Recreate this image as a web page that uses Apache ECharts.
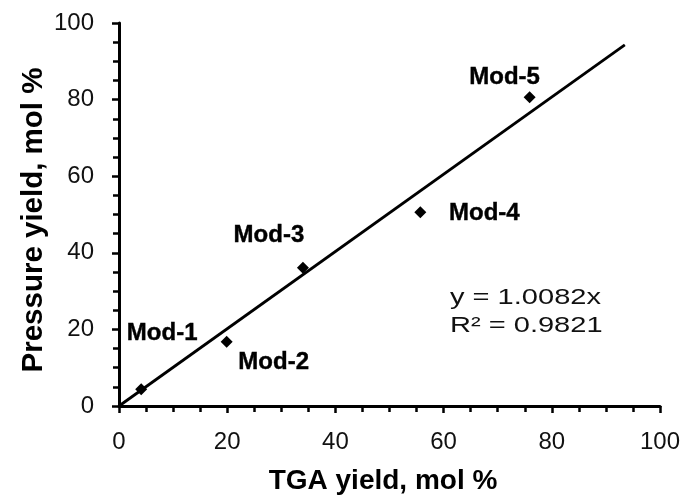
<!DOCTYPE html>
<html>
<head>
<meta charset="utf-8">
<script src="https://cdn.jsdelivr.net/npm/echarts@6/dist/echarts.min.js"></script>
<style>
  html, body { margin: 0; padding: 0; background: #fff; }
  #chart { width: 688px; height: 497px; }
</style>
</head>
<body>
<div id="chart"></div>
<script>
// Sample names and their yields (TGA vs. pressure), mol %
var sampleNames = ['Mod-1', 'Mod-2', 'Mod-3', 'Mod-4', 'Mod-5'];
var tgaYield = [4.1, 19.9, 34.0, 55.7, 75.9];
var pressureYield = [4.4, 16.8, 36.1, 50.6, 80.6];

// Linear fit through the origin
var fitSlope = 1.0082;
var fitR2 = 0.9821;
var fitXEnd = 93.5;

// Axis tick values and titles
var xTicks = [0, 20, 40, 60, 80, 100];
var yTicks = [0, 20, 40, 60, 80, 100];
var xTitle = 'TGA yield, mol %';
var yTitle = 'Pressure yield, mol %';

// Where each sample label sits relative to its marker (pixels)
var labelOffsets = [[21, -56], [47, 21], [-34, -32], [64, 1], [-25, -20]];

var FONT = '"Liberation Sans", Arial, Helvetica, sans-serif';

var points = sampleNames.map(function (name, i) {
  return {
    name: name,
    value: [tgaYield[i], pressureYield[i]],
    label: { offset: labelOffsets[i] }
  };
});

var chart = echarts.init(document.getElementById('chart'), null, { renderer: 'canvas' });

function axisCommon(ticks, labelMargin) {
  return {
    type: 'value',
    min: ticks[0],
    max: ticks[ticks.length - 1],
    interval: ticks[1] - ticks[0],
    axisLine: { show: true, onZero: false, lineStyle: { color: '#000', width: 3 } },
    axisTick: { show: true, inside: false, length: 7, lineStyle: { color: '#000', width: 2.5 } },
    minorTick: { show: true, splitNumber: 4, length: 6, lineStyle: { color: '#000', width: 2.5 } },
    splitLine: { show: false },
    axisLabel: { fontFamily: FONT, fontSize: 24, color: '#111', margin: labelMargin }
  };
}

var titleStyle = {
  fontFamily: FONT,
  fontWeight: 'bold',
  fontSize: 28,
  fill: '#000',
  align: 'center',
  verticalAlign: 'middle'
};

chart.setOption({
  animation: false,
  backgroundColor: '#fff',
  grid: { left: 119, right: 28, top: 23, bottom: 91, containLabel: false },
  xAxis: axisCommon(xTicks, 24),
  yAxis: axisCommon(yTicks, 25),
  series: [
    {
      type: 'line',
      data: [[0, 0], [fitXEnd, fitSlope * fitXEnd]],
      showSymbol: false,
      lineStyle: { color: '#000', width: 2.8 },
      z: 2
    },
    {
      type: 'scatter',
      data: points,
      symbol: 'diamond',
      symbolSize: 12,
      itemStyle: { color: '#000', opacity: 1 },
      label: {
        show: true,
        position: 'inside',
        formatter: '{b}',
        fontFamily: FONT,
        fontWeight: 'bold',
        fontSize: 24,
        color: '#000',
        textBorderColor: '#000',
        textBorderWidth: 0.4
      },
      z: 3
    }
  ],
  graphic: [
    {
      type: 'text',
      x: 383,
      y: 481,
      style: Object.assign({ text: xTitle }, titleStyle)
    },
    {
      type: 'text',
      x: 34,
      y: 220,
      rotation: Math.PI / 2,
      style: Object.assign({ text: yTitle }, titleStyle, { fontSize: 29.5 })
    },
    {
      type: 'text',
      x: 450,
      y: 284,
      scaleX: 1.32,
      style: {
        text: 'y = ' + fitSlope.toFixed(4) + 'x\nR² = ' + fitR2.toFixed(4),
        fontFamily: FONT,
        fontSize: 22,
        lineHeight: 28,
        fill: '#111'
      }
    }
  ]
});
</script>
</body>
</html>
